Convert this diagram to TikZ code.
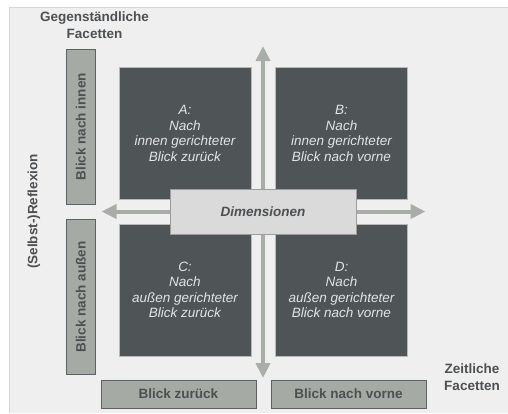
\documentclass[tikz,border=0pt]{standalone}
\usepackage{fontspec}
\setmainfont{Liberation Sans}
\usetikzlibrary{arrows.meta}

\definecolor{panelbg}{HTML}{EFEFEF}
\definecolor{paneledge}{HTML}{D6D6D6}
\definecolor{quadfill}{HTML}{4F5457}
\definecolor{quadtext}{HTML}{E4E4E4}
\definecolor{facetfill}{HTML}{A6AAA4}
\definecolor{facetedge}{HTML}{5E6163}
\definecolor{labeltext}{HTML}{4D5053}
\definecolor{axisgray}{HTML}{A9ADA8}
\definecolor{dimfill}{HTML}{DADADA}
\definecolor{dimedge}{HTML}{9C9C9C}

\tikzset{
  basefont/.style={font=\fontsize{13.5}{15.5}\selectfont},
  quadrant/.style={basefont, fill=quadfill, draw=gray!55, line width=0.6pt,
    text=quadtext, align=center, minimum width=132pt, minimum height=132pt,
    inner sep=0pt, font=\fontsize{13.5}{15.5}\selectfont\itshape},
  facetbox/.style={fill=facetfill, draw=facetedge, line width=0.8pt,
    text=labeltext, inner sep=0pt, font=\fontsize{13.5}{15.5}\selectfont\bfseries},
  vfacet/.style={facetbox, rotate=90, minimum width=155pt, minimum height=29pt},
  hfacet/.style={facetbox, minimum width=155pt, minimum height=28pt},
  axislabel/.style={text=labeltext, align=center, inner sep=0pt,
    font=\fontsize{13.5}{17}\selectfont\bfseries},
  axis/.style={draw=axisgray, line width=4pt,
    {Triangle[width=14pt,length=15pt]}-{Triangle[width=14pt,length=15pt]}},
  dimbox/.style={fill=dimfill, draw=dimedge, line width=0.8pt, text=labeltext,
    minimum width=186pt, minimum height=45pt, inner sep=0pt,
    font=\fontsize{13.5}{15.5}\selectfont\bfseries\itshape}
}

\begin{document}
\begin{tikzpicture}[x=1pt, y=-1pt]
  % page and panel
  \useasboundingbox (0,0) rectangle (508,413);
  \fill[white] (0,0) rectangle (508,413);
  \fill[panelbg] (9,7) rectangle (508,413);
  \draw[paneledge, line width=1pt] (9,413) -- (9,7) -- (508,7);

  % axis end points
  \coordinate (top)    at (263,46);
  \coordinate (bottom) at (263,378);
  \coordinate (left)   at (101.5,211.5);
  \coordinate (right)  at (425.5,211.5);

  % axes behind everything else
  \draw[axis] (bottom) -- (top);
  \draw[axis] (left) -- (right);

  % the four quadrants
  \node[quadrant] (A) at (185,133.5) {A:\\Nach\\innen gerichteter\\Blick zurück};
  \node[quadrant] (B) at (341.5,133.5) {B:\\Nach\\innen gerichteter\\Blick nach vorne};
  \node[quadrant] (C) at (185,290) {C:\\Nach\\außen gerichteter\\Blick zurück};
  \node[quadrant] (D) at (341.5,290) {D:\\Nach\\außen gerichteter\\Blick nach vorne};

  % centre label
  \node[dimbox] (dim) at (263,211.5) {Dimensionen};

  % facet bars
  \node[vfacet] (innen) at (80.7,126.7) {Blick nach innen};
  \node[vfacet] (aussen) at (80.7,297) {Blick nach außen};
  \node[hfacet] (zurueck) at (178.5,394) {Blick zurück};
  \node[hfacet] (vorne) at (348.5,394) {Blick nach vorne};

  % axis titles
  \node[axislabel] (gegen) at (94.5,25.5) {Gegenständliche\\Facetten};
  \node[axislabel] (zeit) at (472,377) {Zeitliche\\Facetten};
  \node[axislabel, rotate=90] (refl) at (34,211.5) {(Selbst-)Reflexion};
\end{tikzpicture}
\end{document}
